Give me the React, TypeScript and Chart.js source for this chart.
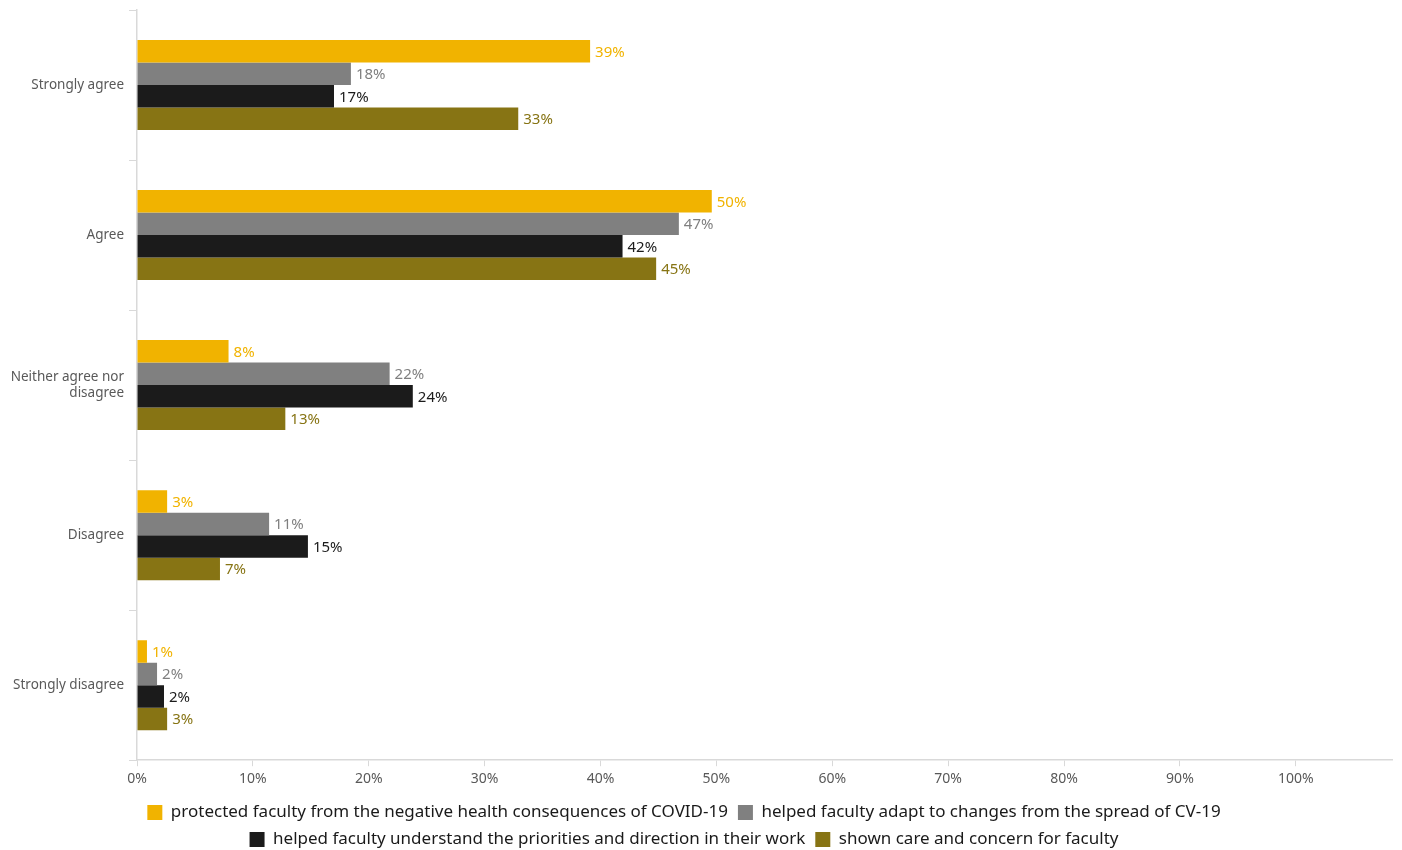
import React, { useEffect, useRef } from "react";
import { Chart, registerables } from "chart.js";

Chart.register(...registerables);

const categories: (string | string[])[] = [
  "Strongly agree",
  "Agree",
  ["Neither agree nor", "disagree"],
  "Disagree",
  "Strongly disagree",
];

const seriesNames = [
  "protected faculty from the negative health consequences of COVID-19",
  "helped faculty adapt to changes from the spread of CV-19",
  "helped faculty understand the priorities and direction in their work",
  "shown care and concern for faculty",
];

const protectedHealth = [0.391, 0.496, 0.079, 0.026, 0.0086];
const helpedAdapt = [0.1846, 0.4676, 0.218, 0.114, 0.0173];
const helpedUnderstand = [0.17, 0.419, 0.238, 0.1475, 0.0233];
const shownCare = [0.329, 0.448, 0.128, 0.0716, 0.026];

const barColors = ["#F1B300", "#808080", "#1B1B1B", "#877414"];
const labelColors = ["#F1B300", "#7F7F7F", "#1B1B1B", "#877414"];

const xTickValues = [0, 0.1, 0.2, 0.3, 0.4, 0.5, 0.6, 0.7, 0.8, 0.9, 1.0];

const valueLabelPlugin = {
  id: "valueLabels",
  afterDatasetsDraw(chart: any) {
    const ctx = chart.ctx;
    ctx.save();
    ctx.font = "15px 'Noto Sans'";
    ctx.textBaseline = "middle";
    ctx.textAlign = "left";
    chart.data.datasets.forEach((ds: any, di: number) => {
      const meta = chart.getDatasetMeta(di);
      meta.data.forEach((bar: any, i: number) => {
        const v = ds.data[i];
        ctx.fillStyle = labelColors[di];
        ctx.fillText(Math.round(v * 100) + "%", bar.x + 5, bar.y + 1);
      });
    });
    ctx.restore();
  },
};

const legendShiftPlugin = {
  id: "legendShift",
  afterLayout(chart: any) {
    const lg = chart.legend;
    if (lg) {
      lg.left -= 16;
      lg.right -= 16;
    }
  },
};

export default function App() {
  const ref = useRef<HTMLCanvasElement>(null);
  useEffect(() => {
    if (!ref.current) return;
    const series = [protectedHealth, helpedAdapt, helpedUnderstand, shownCare];
    const chart = new Chart(ref.current, {
      type: "bar",
      data: {
        labels: categories,
        datasets: series.map((d, i) => ({
          label: seriesNames[i],
          data: d,
          backgroundColor: barColors[i],
          borderWidth: 0,
          categoryPercentage: 0.6,
          barPercentage: 1.0,
        })),
      },
      options: {
        indexAxis: "y",
        animation: false,
        responsive: true,
        maintainAspectRatio: false,
        layout: { padding: { top: 2, right: 2, left: 0, bottom: -8 } },
        scales: {
          x: {
            min: 0,
            max: 1.083,
            afterBuildTicks: (axis: any) => {
              axis.ticks = xTickValues.map((v) => ({ value: v }));
            },
            afterFit: (s: any) => {
              s.height += 3;
            },
            grid: {
              drawOnChartArea: false,
              drawTicks: true,
              tickLength: 6,
              color: "#D9D9D9",
            },
            border: { color: "#D9D9D9", width: 1.5 },
            ticks: {
              color: "#595959",
              font: { family: "'Noto Sans'", size: 14 },
              padding: 4,
              maxRotation: 0,
              callback: (v: any) => Math.round(Number(v) * 100) + "%",
            },
          },
          y: {
            afterFit: (s: any) => {
              s.width = 129;
              s.paddingTop = 0;
              s.paddingBottom = 0;
            },
            grid: {
              offset: true,
              drawOnChartArea: false,
              drawTicks: true,
              tickLength: 8,
              color: "#D9D9D9",
            },
            border: { color: "#D9D9D9", width: 1.5 },
            ticks: {
              color: "#595959",
              font: { family: "'Noto Sans'", size: 13.5 },
              padding: 5,
            },
          },
        },
        plugins: {
          legend: {
            position: "bottom",
            labels: {
              boxWidth: 15,
              boxHeight: 15,
              padding: 10,
              color: "#1A1A1A",
              font: { family: "'Noto Sans'", size: 17 },
            },
          },
          tooltip: { enabled: false },
        },
      },
      plugins: [valueLabelPlugin, legendShiftPlugin],
    });
    return () => chart.destroy();
  }, []);
  return (
    <div style={{ width: 1386, height: 842, position: "relative" }}>
      <canvas ref={ref} />
    </div>
  );
}
